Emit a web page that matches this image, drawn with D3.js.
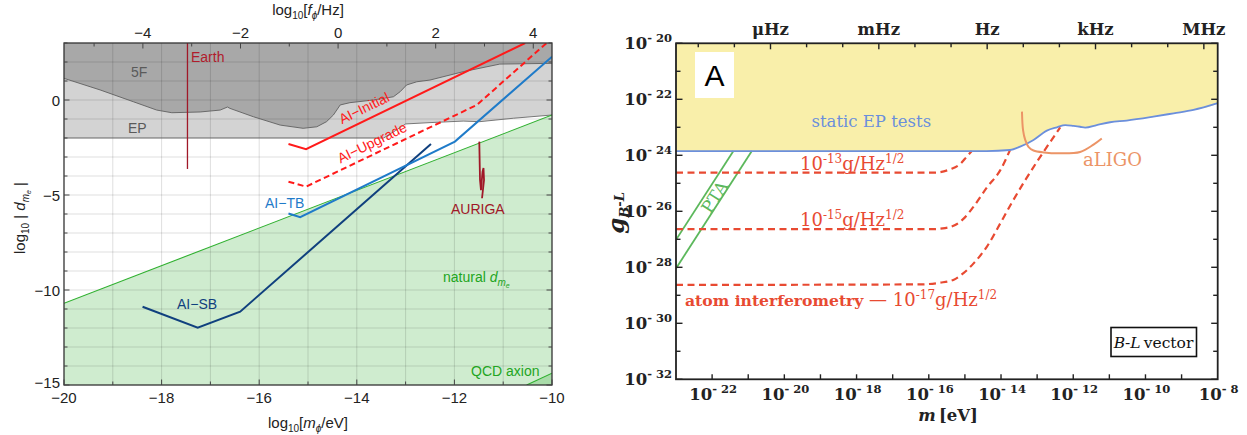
<!DOCTYPE html>
<html><head><meta charset="utf-8">
<script src="https://cdn.jsdelivr.net/npm/d3@7"></script>
<style>body{margin:0;background:#fff}svg{display:block}</style>
</head><body><svg id="c" width="1247" height="435"></svg>
<script>
// ================= DATA (left panel: log10 m [eV] vs log10 |d_me|) =================
const mTickLabels = [-20, -18, -16, -14, -12, -10];
const dTickLabels = [-15, -10, -5, 0];
const fTickLabels = [-4, -2, 0, 2, 4];
const fifthForceEdge = [[-20,1.14],[-19.26,0.53],[-18.58,-0.09],[-18.10,-0.53],[-17.79,-0.67],[-17.21,-0.63],[-16.80,-0.53],[-16.65,-0.37],[-16.60,-0.44],[-16.12,-0.88],[-15.57,-1.32],[-15.10,-1.49],[-14.82,-1.41],[-14.62,-1.14],[-14.48,-0.79],[-14.34,-0.26],[-14.14,-0.14],[-13.66,0.0],[-13.25,0.17],[-13.11,0.44],[-12.98,0.79],[-12.77,0.96],[-12.50,1.05],[-11.82,1.49],[-11.07,1.89],[-10,1.93]];
const epLowerEdge = [[-20,-2],[-13.45,-2],[-13.2,-1.6],[-13.0,-1.26],[-12.50,-1.19],[-11.82,-1.11],[-11.48,-1.14],[-10.79,-0.96],[-10,-0.79]];
const naturalEdge = [[-20,-10.7],[-10,-0.79]];
const qcdEdge = [[-10.52,-15],[-10,-14.38]];
const earthLine = [[-17.47,3],[-17.47,-3.63]];
const aiInitial = [[-15.40,-2.32],[-15.04,-2.59],[-10.55,3.0]];
const aiUpgrade = [[-15.40,-4.30],[-15.04,-4.56],[-11.54,-0.26],[-10.11,3.0]];
const aiTB = [[-15.40,-5.97],[-15.16,-6.17],[-11.99,-2.19],[-10.0,2.28]];
const aiSB = [[-18.39,-10.88],[-17.26,-11.98],[-16.39,-11.14],[-12.48,-2.32]];
const auriga = [[-11.49,-2.19],[-11.475,-4.21],[-11.455,-4.74],[-11.424,-3.79],[-11.404,-3.58],[-11.393,-4.21],[-11.434,-5.17]];

// ================= DATA (right panel: log10 m [eV] vs log10 g_B-L) =================
const gTickExps = [-20, -22, -24, -26, -28, -30, -32];
const mTickExps = [-22, -20, -18, -16, -14, -12, -10, -8];
const freqTickExps = [-6, -3, 0, 3, 6];
const freqTickNames = ["\u03bcHz", "mHz", "Hz", "kHz", "MHz"];
const staticEP = [[-23,-23.85],[-14.4,-23.85],[-13.75,-23.81],[-13.47,-23.69],[-13.10,-23.45],[-12.73,-23.12],[-12.45,-23.0],[-12.22,-22.92],[-11.99,-22.95],[-11.81,-22.98],[-11.67,-23.01],[-11.35,-22.92],[-10.98,-22.82],[-10.52,-22.76],[-9.78,-22.62],[-9.22,-22.50],[-8.67,-22.38],[-8.0,-22.14]];
const ptaUpper = [[-21.41,-23.85],[-23,-27.02]];
const ptaLower = [[-20.90,-23.85],[-23,-28.04]];
const ai13 = [[-23,-24.62],[-15.87,-24.62],[-15.41,-24.50],[-15.13,-24.31],[-14.95,-24.05],[-14.81,-23.85]];
const ai15 = [[-23,-26.64],[-15.96,-26.64],[-15.55,-26.60],[-15.27,-26.49],[-15.05,-26.28],[-14.77,-25.85],[-14.38,-25.13],[-14.02,-24.53],[-13.75,-23.81]];
const ai17 = [[-23,-28.63],[-16.24,-28.61],[-15.69,-28.55],[-15.32,-28.45],[-15.04,-28.21],[-14.76,-27.86],[-14.39,-27.26],[-14.02,-26.43],[-13.66,-25.60],[-12.36,-23.0]];
const aLIGO = [[-13.42,-22.44],[-13.39,-23.10],[-13.33,-23.45],[-13.24,-23.70],[-13.10,-23.83],[-12.81,-23.90],[-12.35,-23.93],[-11.81,-23.88],[-11.44,-23.62],[-11.21,-23.40]];

const EV_TO_HZ = 2.418e14;

const svg = d3.select('#c');
const defs = svg.append('defs');

// ---------- helpers ----------
function rich(g, x, y, parts, attrs) {
  const t = g.append('text').attr('x', x).attr('y', y);
  for (const k in (attrs || {})) t.attr(k, attrs[k]);
  let cur = 0;
  parts.forEach(p => {
    const s = t.append('tspan').text(p.t);
    const target = p.dy || 0;
    if (target - cur !== 0) s.attr('dy', target - cur);
    cur = target;
    if (p.size) s.attr('font-size', p.size);
    if (p.style) s.attr('font-style', p.style);
    if (p.weight) s.attr('font-weight', p.weight);
  });
  return t;
}

// ===================== LEFT PANEL =====================
const xL = d3.scaleLinear().domain([-20, -10]).range([64, 552]);
const yL = d3.scaleLinear().domain([-15, 3]).range([385, 43]);
const xLf = d3.scaleLinear().domain([-20 + Math.log10(EV_TO_HZ), -10 + Math.log10(EV_TO_HZ)]).range([64, 552]);
const lineL = d3.line().x(d => xL(d[0])).y(d => yL(d[1]));

defs.append('clipPath').attr('id', 'clipL').append('rect')
  .attr('x', 64).attr('y', 43).attr('width', 488).attr('height', 342);
const gL = svg.append('g');
const pL = gL.append('g').attr('clip-path', 'url(#clipL)');

pL.append('path').attr('d', lineL([...naturalEdge, [-10,-15], [-20,-15]])).attr('fill', '#cfeccf');
pL.append('path').attr('d', lineL([...qcdEdge, [-10,-15]])).attr('fill', '#a9dca9');
pL.append('path').attr('d', lineL([[-20,3],[-10,3], ...epLowerEdge.slice().reverse()])).attr('fill', '#d3d3d3');
pL.append('path').attr('d', lineL([[-20,3],[-10,3], ...fifthForceEdge.slice().reverse()])).attr('fill', '#a8a8a8');

// grid
pL.selectAll('.gv').data(d3.range(-19, -10)).join('line')
  .attr('x1', d => xL(d)).attr('x2', d => xL(d)).attr('y1', 43).attr('y2', 385)
  .attr('stroke', 'rgba(0,0,0,0.13)').attr('stroke-width', 1);
pL.selectAll('.gh').data(d3.range(-14, 3)).join('line')
  .attr('y1', d => yL(d)).attr('y2', d => yL(d)).attr('x1', 64).attr('x2', 552)
  .attr('stroke', 'rgba(0,0,0,0.13)').attr('stroke-width', 1);

pL.append('path').attr('d', lineL(fifthForceEdge)).attr('fill', 'none').attr('stroke', '#606060').attr('stroke-width', 0.9);
pL.append('path').attr('d', lineL(epLowerEdge)).attr('fill', 'none').attr('stroke', '#6a6a6a').attr('stroke-width', 0.9);
pL.append('path').attr('d', lineL(naturalEdge)).attr('fill', 'none').attr('stroke', '#2fb02f').attr('stroke-width', 1.1);
pL.append('path').attr('d', lineL(qcdEdge)).attr('fill', 'none').attr('stroke', '#2fb02f').attr('stroke-width', 1.1);
pL.append('path').attr('d', lineL(earthLine)).attr('fill', 'none').attr('stroke', '#a01828').attr('stroke-width', 1.3);
pL.append('path').attr('d', lineL(auriga)).attr('fill', 'none').attr('stroke', '#a01828').attr('stroke-width', 1.8);
pL.append('path').attr('d', lineL(aiSB)).attr('fill', 'none').attr('stroke', '#10407e').attr('stroke-width', 2);
pL.append('path').attr('d', lineL(aiTB)).attr('fill', 'none').attr('stroke', '#1f7bc9').attr('stroke-width', 2);
pL.append('path').attr('d', lineL(aiUpgrade)).attr('fill', 'none').attr('stroke', '#ff1a1a').attr('stroke-width', 2).attr('stroke-dasharray', '6,3.5');
pL.append('path').attr('d', lineL(aiInitial)).attr('fill', 'none').attr('stroke', '#ff1a1a').attr('stroke-width', 2);

// labels left
const sansL = {'font-family': 'Liberation Sans, Arial, sans-serif', 'font-size': 14};
function lbl(x, y, txt, color, extra) {
  const t = gL.append('text').attr('x', x).attr('y', y).text(txt).attr('fill', color);
  Object.entries({...sansL, ...(extra||{})}).forEach(([k,v]) => t.attr(k, v));
  return t;
}
lbl(131, 77, '5F', '#5a5a5a');
lbl(128, 133, 'EP', '#5a5a5a');
lbl(191, 62, 'Earth', '#b01c2c');
lbl(265, 208, 'AI\u2212TB', '#1f7bc9');
lbl(177, 309, 'AI\u2212SB', '#10407e');
lbl(451, 213.5, 'AURIGA', '#a01828');
lbl(471, 375.5, 'QCD axion', '#22a522');
lbl(364, 108, 'AI\u2212Initial', '#ff1a1a', {'text-anchor': 'middle', 'dominant-baseline': 'central', 'transform': 'rotate(-26 364 108)'});
lbl(372, 142.5, 'AI\u2212Upgrade', '#ff1a1a', {'text-anchor': 'middle', 'dominant-baseline': 'central', 'transform': 'rotate(-26 372 142.5)'});
rich(gL, 443, 281.5, [
  {t: 'natural '}, {t: 'd', style: 'italic'}, {t: 'm', style: 'italic', size: 10, dy: 4}, {t: 'e', style: 'italic', size: 7, dy: 6}
], {...sansL, fill: '#22a522'});

// frame and ticks
gL.append('rect').attr('x', 64).attr('y', 43).attr('width', 488).attr('height', 342)
  .attr('fill', 'none').attr('stroke', '#333').attr('stroke-width', 1.3);
const tickC = '#444';
d3.range(-20, -9).forEach(v => {
  const len = mTickLabels.includes(v) ? 5.5 : 3.5;
  gL.append('line').attr('x1', xL(v)).attr('x2', xL(v)).attr('y1', 385).attr('y2', 385 - len).attr('stroke', tickC);
});
d3.range(-15, 4).forEach(v => {
  const len = dTickLabels.includes(v) ? 5.5 : 3.5;
  gL.append('line').attr('y1', yL(v)).attr('y2', yL(v)).attr('x1', 64).attr('x2', 64 + len).attr('stroke', tickC);
  gL.append('line').attr('y1', yL(v)).attr('y2', yL(v)).attr('x1', 552).attr('x2', 552 - len).attr('stroke', tickC);
});
d3.range(-5, 5).forEach(v => {
  const len = fTickLabels.includes(v) ? 5.5 : 3.5;
  gL.append('line').attr('x1', xLf(v)).attr('x2', xLf(v)).attr('y1', 43).attr('y2', 43 + len).attr('stroke', tickC);
});
const fmt = v => (v < 0 ? '\u2212' + Math.abs(v) : '' + v);
mTickLabels.forEach(v => lbl(xL(v), 403, fmt(v), '#222', {'text-anchor': 'middle', 'font-size': 15}));
dTickLabels.forEach(v => lbl(60, Math.min(yL(v) + 5.5, 387.5), fmt(v), '#222', {'text-anchor': 'end', 'font-size': 15}));
fTickLabels.forEach(v => lbl(xLf(v), 38, fmt(v), '#222', {'text-anchor': 'middle', 'font-size': 15}));

rich(gL, 308, 428, [{t: 'log'}, {t: '10', size: 10, dy: 4}, {t: '[', dy: 0}, {t: 'm', style: 'italic'}, {t: '\u03d5', style: 'italic', size: 10, dy: 4}, {t: '/eV]', dy: 0}],
  {'font-family': 'Liberation Sans, Arial, sans-serif', 'font-size': 15, 'text-anchor': 'middle', fill: '#222'});
rich(gL, 308, 15, [{t: 'log'}, {t: '10', size: 10, dy: 4}, {t: '[', dy: 0}, {t: 'f', style: 'italic'}, {t: '\u03d5', style: 'italic', size: 10, dy: 4}, {t: '/Hz]', dy: 0}],
  {'font-family': 'Liberation Sans, Arial, sans-serif', 'font-size': 15, 'text-anchor': 'middle', fill: '#222'});
rich(gL, 0, 0, [{t: 'log'}, {t: '10', size: 10, dy: 4}, {t: ' | ', dy: 0}, {t: 'd', style: 'italic'}, {t: 'm', style: 'italic', size: 10, dy: 4}, {t: 'e', style: 'italic', size: 7, dy: 6}, {t: ' |', dy: 0}],
  {'font-family': 'Liberation Sans, Arial, sans-serif', 'font-size': 15, 'text-anchor': 'middle', fill: '#222', transform: 'translate(25,218) rotate(-90)'});

// ===================== RIGHT PANEL =====================
const P = v => Math.pow(10, v);
const xR = d3.scaleLog().domain([1e-23, 1e-8]).range([676, 1217.7]);
const yR = d3.scaleLog().domain([1e-32, 1e-20]).range([379.3, 43.3]);
const xRf = d3.scaleLog().domain([1e-23 * EV_TO_HZ, 1e-8 * EV_TO_HZ]).range([676, 1217.7]);
const lineR = d3.line().x(d => xR(P(d[0]))).y(d => yR(P(d[1])));
const smoothR = d3.line().x(d => xR(P(d[0]))).y(d => yR(P(d[1]))).curve(d3.curveMonotoneX);

defs.append('clipPath').attr('id', 'clipR').append('rect')
  .attr('x', 676).attr('y', 43.3).attr('width', 541.7).attr('height', 336);
const gR = svg.append('g');
const pR = gR.append('g').attr('clip-path', 'url(#clipR)');

pR.append('path').attr('d', smoothR([[-23,-20], ...staticEP, [-8,-20]])).attr('fill', '#f9efaa');
pR.append('path').attr('d', lineR(ptaUpper)).attr('fill', 'none').attr('stroke', '#5cb85c').attr('stroke-width', 1.8);
pR.append('path').attr('d', lineR(ptaLower)).attr('fill', 'none').attr('stroke', '#5cb85c').attr('stroke-width', 1.8);
[ai13, ai15, ai17].forEach(c => pR.append('path').attr('d', smoothR(c)).attr('fill', 'none')
  .attr('stroke', '#e84a32').attr('stroke-width', 2.2).attr('stroke-dasharray', '7,4.5'));
pR.append('path').attr('d', smoothR(staticEP)).attr('fill', 'none').attr('stroke', '#6b8fdc').attr('stroke-width', 1.8);
pR.append('path').attr('d', d3.line().x(d => xR(P(d[0]))).y(d => yR(P(d[1]))).curve(d3.curveCatmullRom)(aLIGO))
  .attr('fill', 'none').attr('stroke', '#ec9466').attr('stroke-width', 2);

const serif = 'DejaVu Serif, serif';
// "A" box
gR.append('rect').attr('x', 695).attr('y', 52).attr('width', 39).attr('height', 46).attr('fill', '#fff');
gR.append('text').attr('x', 714.5).attr('y', 86).attr('text-anchor', 'middle').attr('font-family', 'Liberation Sans, Arial, sans-serif')
  .attr('font-size', 30).attr('fill', '#000').text('A');

gR.append('text').attr('x', 811.5).attr('y', 127).attr('font-family', serif).attr('font-size', 16.5).attr('fill', '#6b8fdc').text('static EP tests');
gR.append('text').attr('x', 1083).attr('y', 166).attr('font-family', serif).attr('font-size', 18).attr('fill', '#ec9466').text('aLIGO');
gR.append('text').attr('font-family', serif).attr('font-size', 17).attr('fill', '#5cb85c')
  .attr('text-anchor', 'middle').attr('dominant-baseline', 'central')
  .attr('transform', 'translate(714.5,197) rotate(-57.5)').text('PTA');

const redC = '#e84a32';
rich(gR, 800, 170, [{t: '10'}, {t: '-13', size: 12, dy: -7}, {t: 'g/Hz', dy: 0}, {t: '1/2', size: 12, dy: -7}],
  {'font-family': serif, 'font-size': 18, fill: redC});
rich(gR, 800, 226, [{t: '10'}, {t: '-15', size: 12, dy: -7}, {t: 'g/Hz', dy: 0}, {t: '1/2', size: 12, dy: -7}],
  {'font-family': serif, 'font-size': 18, fill: redC});
rich(gR, 685, 306, [{t: 'atom interferometry', weight: 'bold', size: 15.6}, {t: ' \u2014 '}, {t: '10'}, {t: '-17', size: 12, dy: -7}, {t: 'g/Hz', dy: 0}, {t: '1/2', size: 12, dy: -7}],
  {'font-family': serif, 'font-size': 18, fill: redC});

// B-L vector box
gR.append('rect').attr('x', 1111).attr('y', 327.5).attr('width', 85.5).attr('height', 29)
  .attr('fill', '#fff').attr('stroke', '#111').attr('stroke-width', 1.6);
rich(gR, 1153.5, 348, [{t: 'B', style: 'italic'}, {t: '-'}, {t: 'L', style: 'italic'}, {t: '\u2009vector'}],
  {'font-family': serif, 'font-size': 15.5, fill: '#111', 'text-anchor': 'middle'});

// frame
gR.append('rect').attr('x', 676).attr('y', 43.3).attr('width', 541.7).attr('height', 336)
  .attr('fill', 'none').attr('stroke', '#222').attr('stroke-width', 1.8);
// ticks
d3.range(-32, -19).forEach(e => {
  const len = e % 2 === 0 ? 6.5 : 4.5;
  const y = yR(P(e));
  gR.append('line').attr('x1', 676).attr('x2', 676 + len).attr('y1', y).attr('y2', y).attr('stroke', '#222').attr('stroke-width', 1.4);
  gR.append('line').attr('x1', 1217.7).attr('x2', 1217.7 - len).attr('y1', y).attr('y2', y).attr('stroke', '#222').attr('stroke-width', 1.4);
});
d3.range(-22, -8).forEach(e => {
  const x = xR(P(e));
  gR.append('line').attr('x1', x).attr('x2', x).attr('y1', 379.3).attr('y2', 379.3 - 5).attr('stroke', '#222').attr('stroke-width', 1.4);
});
d3.range(-8, 7).forEach(e => {
  const x = xRf(P(e));
  const len = freqTickExps.includes(e) ? 6 : 4;
  gR.append('line').attr('x1', x).attr('x2', x).attr('y1', 43.3).attr('y2', 43.3 + len).attr('stroke', '#222').attr('stroke-width', 1.4);
});
const tickFont = {'font-family': serif, 'font-size': 16.5, 'font-weight': 'bold', fill: '#222'};
gTickExps.forEach(e => rich(gR, 672, yR(P(e)) + 6, [{t: '10'}, {t: '- ' + Math.abs(e), size: 11.5, dy: -7}], {...tickFont, 'text-anchor': 'end'}));
mTickExps.forEach(e => rich(gR, xR(P(e)) + 1, 400, [{t: '10'}, {t: '- ' + Math.abs(e), size: 11.5, dy: -7}], {...tickFont, 'text-anchor': 'middle'}));
freqTickExps.forEach((e, i) => gR.append('text').attr('x', xRf(P(e))).attr('y', 35).attr('text-anchor', 'middle')
  .attr('font-family', serif).attr('font-size', 16.5).attr('font-weight', 'bold').attr('fill', '#222').text(freqTickNames[i]));

// axis titles
rich(gR, 0, 0, [{t: 'g', style: 'italic', weight: 'bold'}, {t: 'B', style: 'italic', size: 13, dy: 5}, {t: '-', size: 13}, {t: 'L', style: 'italic', size: 13}],
  {'font-family': serif, 'font-size': 23, fill: '#222', 'font-weight': 'bold', 'text-anchor': 'middle', transform: 'translate(624,213) rotate(-90)'});
rich(gR, 948, 421, [{t: 'm', style: 'italic'}, {t: '\u2009[eV]'}],
  {'font-family': serif, 'font-size': 16.5, 'font-weight': 'bold', fill: '#222', 'text-anchor': 'middle'});
</script></body></html>
